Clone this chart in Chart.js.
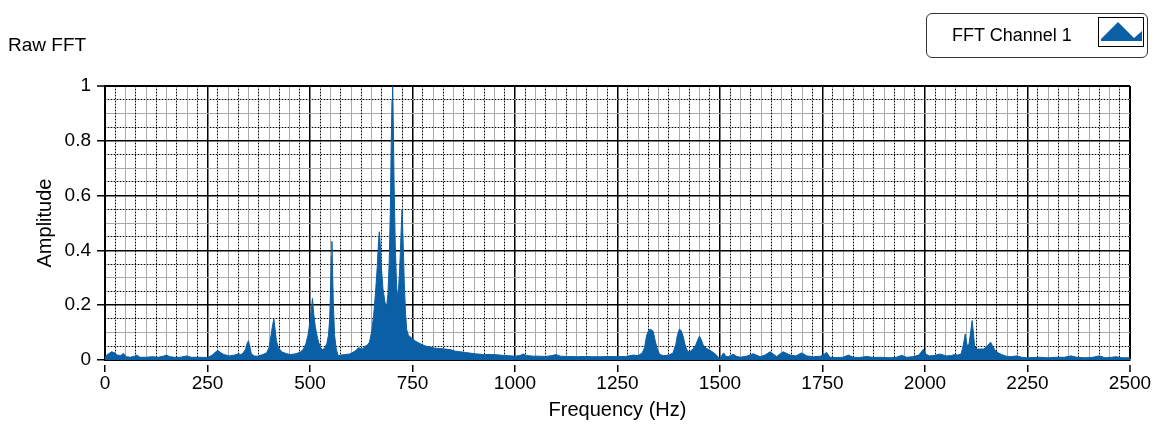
<!DOCTYPE html>
<html lang="en">

<head>
  <meta charset="UTF-8">
  <meta name="viewport" content="width=device-width, initial-scale=1.0">
  <script src="https://cdn.jsdelivr.net/npm/chart.js@4.4.1/dist/chart.umd.min.js"></script>
  <title>Raw FFT</title>
  <style>
    body {
      margin: 0;
      background: #fff;
      font-family: 'Liberation Sans', Arial, sans-serif;
    }

    #wrap {
      position: relative;
      width: 1174px;
      height: 429px;
    }

    .graphTitle {
      position: absolute;
      left: 8px;
      top: 33px;
      font-size: 19px;
      line-height: 24px;
      color: #000;
    }

    .legendBox {
      position: absolute;
      left: 926px;
      top: 13px;
      width: 222px;
      height: 45px;
      border: 1px solid #333;
      border-radius: 6px;
      box-sizing: border-box;
    }

    .legendBox .label {
      position: absolute;
      left: 25px;
      top: 9px;
      font-size: 18px;
      line-height: 24px;
      color: #000;
    }

    .legendBox .icon {
      position: absolute;
      left: 171px;
      top: 3px;
      width: 46px;
      height: 30px;
      border: 1px solid #000;
      box-sizing: border-box;
      background: #fff;
    }

    .legendBox .icon svg {
      display: block;
    }
  </style>
</head>

<body>
  <div id="wrap">
    <canvas id="fftChart"></canvas>
    <div class="graphTitle">Raw FFT</div>
    <div class="legendBox">
      <span class="label">FFT Channel 1</span>
      <span class="icon">
        <svg width="44" height="28" viewBox="0 0 44 28">
          <polygon points="2,21 19,4 35,20 43,13 43,23 2,23" fill="#0b5fa5" />
        </svg>
      </span>
    </div>
  </div>

<script>
  // frequenze (Hz)
  const freqHz = [
    0, 8, 16, 24, 30, 38, 45, 52, 62, 72, 78, 85, 100, 116, 130, 142, 150, 158, 170, 185,
    199, 210, 231, 250, 262, 270, 276, 283, 290, 304, 316, 324, 332, 337, 343, 347, 350, 353, 357, 364,
    372, 385, 394, 400, 405, 409, 412, 415, 418, 423, 431, 441, 451, 463, 476, 484, 490, 495, 499, 503,
    506, 509, 513, 517, 521, 526, 531, 536, 541, 545, 548, 550, 552, 553.5, 555, 557, 560, 564, 569, 575,
    585, 597, 605, 612, 618, 623, 628, 634, 640, 645, 650, 655, 660, 664, 667, 669, 671, 674, 678, 683,
    687, 690, 693, 696, 698, 700, 701.5, 703, 705, 708, 711, 713, 716, 719, 722, 724.5, 727, 730, 733, 736,
    740, 748, 758, 768, 780, 790, 801, 815, 830, 842, 855, 866, 882, 900, 923, 945, 963, 980, 1000, 1012,
    1020, 1028, 1045, 1060, 1075, 1090, 1100, 1110, 1130, 1150, 1170, 1190, 1210, 1230, 1250, 1270, 1289, 1300, 1310, 1316,
    1321, 1326, 1331, 1337, 1342, 1347, 1353, 1362, 1375, 1385, 1392, 1396, 1401, 1405, 1410, 1414, 1418, 1422, 1428, 1435,
    1441, 1446, 1450, 1454, 1459, 1467, 1476, 1483, 1490, 1496, 1500, 1505, 1509, 1514, 1520, 1532, 1540, 1549, 1565, 1581,
    1598, 1610, 1622, 1638, 1654, 1671, 1685, 1699, 1712, 1728, 1745, 1755, 1760, 1768, 1785, 1800, 1813, 1825, 1840, 1858,
    1875, 1890, 1915, 1930, 1943, 1955, 1970, 1985, 1996, 2002, 2010, 2022, 2036, 2052, 2064, 2072, 2080, 2088, 2093, 2098,
    2102, 2105, 2108, 2112, 2115, 2118, 2121, 2126, 2132, 2143, 2151, 2156, 2160, 2165, 2171, 2180, 2187, 2198, 2208, 2224,
    2236, 2248, 2265, 2280, 2300, 2320, 2340, 2356, 2370, 2390, 2410, 2425, 2440, 2455, 2466, 2480, 2500
  ];

  // ampiezze corrispondenti
  const amplitude = [
    0.012, 0.022, 0.03, 0.026, 0.018, 0.016, 0.024, 0.012, 0.01, 0.014, 0.018, 0.01, 0.01, 0.012, 0.01, 0.014, 0.018, 0.012, 0.01, 0.01,
    0.015, 0.01, 0.01, 0.009, 0.018, 0.03, 0.034, 0.026, 0.02, 0.015, 0.018, 0.022, 0.02, 0.026, 0.04, 0.062, 0.07, 0.05, 0.022, 0.015,
    0.014, 0.02, 0.026, 0.045, 0.09, 0.13, 0.149, 0.11, 0.07, 0.045, 0.03, 0.024, 0.02, 0.022, 0.028, 0.04, 0.06, 0.09, 0.13, 0.18,
    0.225, 0.17, 0.12, 0.09, 0.065, 0.045, 0.037, 0.045, 0.06, 0.09, 0.15, 0.25, 0.38, 0.433, 0.33, 0.2, 0.09, 0.04, 0.015, 0.018,
    0.02, 0.022, 0.028, 0.035, 0.045, 0.042, 0.04, 0.05, 0.055, 0.065, 0.1, 0.16, 0.25, 0.34, 0.43, 0.468, 0.43, 0.34, 0.26, 0.21,
    0.195, 0.24, 0.35, 0.55, 0.78, 0.95, 1.0, 0.88, 0.65, 0.42, 0.28, 0.23, 0.26, 0.34, 0.46, 0.55, 0.44, 0.28, 0.17, 0.11,
    0.09, 0.08, 0.068, 0.06, 0.052, 0.048, 0.044, 0.042, 0.04, 0.038, 0.032, 0.03, 0.027, 0.023, 0.02, 0.02, 0.018, 0.016, 0.014, 0.016,
    0.022, 0.016, 0.014, 0.014, 0.013, 0.016, 0.02, 0.014, 0.013, 0.012, 0.013, 0.012, 0.012, 0.013, 0.012, 0.013, 0.018, 0.016, 0.025, 0.045,
    0.09, 0.108, 0.112, 0.105, 0.07, 0.04, 0.02, 0.016, 0.018, 0.025, 0.055, 0.09, 0.112, 0.108, 0.088, 0.06, 0.042, 0.03, 0.032, 0.042,
    0.055, 0.075, 0.087, 0.075, 0.055, 0.042, 0.035, 0.028, 0.02, 0.01, 0.005, 0.018, 0.026, 0.014, 0.012, 0.021, 0.014, 0.01, 0.014, 0.023,
    0.012, 0.018, 0.03, 0.013, 0.03, 0.018, 0.015, 0.026, 0.015, 0.012, 0.014, 0.022, 0.028, 0.01, 0.009, 0.01, 0.018, 0.01, 0.009, 0.013,
    0.009, 0.01, 0.008, 0.01, 0.017, 0.01, 0.012, 0.018, 0.039, 0.022, 0.015, 0.016, 0.022, 0.015, 0.016, 0.02, 0.018, 0.022, 0.05, 0.095,
    0.06, 0.045, 0.065, 0.11, 0.144, 0.1, 0.05, 0.04, 0.04, 0.04, 0.05, 0.058, 0.065, 0.05, 0.035, 0.025, 0.02, 0.014, 0.012, 0.015,
    0.01, 0.008, 0.009, 0.01, 0.008, 0.01, 0.01, 0.015, 0.01, 0.008, 0.01, 0.015, 0.008, 0.01, 0.012, 0.008, 0.008
  ];

  const seriesName = 'FFT Channel 1';
  const xTitle = 'Frequency (Hz)';
  const yTitle = 'Amplitude';

  const fftBlue = '#0b5fa5';
  const minorGray = '#aaaaaa';
  const hidden = 'rgba(0,0,0,0)';

  Chart.defaults.font.family = "'Liberation Sans', Arial, sans-serif";
  Chart.defaults.color = '#000';

  /* griglia: principali ogni 250 Hz / 0.2, secondarie ogni 25 Hz / 0.05 */
  function isMajorX(v) { return Math.round(v) % 250 === 0; }
  function isMajorY(v) { return Math.round(v * 100) % 20 === 0; }
  function isDotX(v) { return !isMajorX(v) && Math.round(v / 25) % 2 === 1; }
  function isDotY(v) { return !isMajorY(v) && Math.round(v * 20) % 2 === 1; }

  const points = freqHz.map((f, i) => ({ x: f, y: amplitude[i] }));

  const ctx = document.getElementById('fftChart').getContext('2d');
  const fftChart = new Chart(ctx, {
    type: 'line',
    data: {
      datasets: [{
        label: seriesName,
        data: points,
        fill: 'origin',
        backgroundColor: fftBlue,
        borderColor: fftBlue,
        borderWidth: 1,
        pointRadius: 0,
        tension: 0
      }]
    },
    options: {
      responsive: true,
      maintainAspectRatio: false,
      animation: false,
      events: [],
      layout: {
        padding: { top: 86, right: 44, bottom: 0, left: 0 }
      },
      plugins: {
        legend: { display: false },
        tooltip: { enabled: false }
      },
      scales: {
        x: {
          type: 'linear',
          min: 0,
          max: 2500,
          ticks: {
            stepSize: 25,
            autoSkip: false,
            maxRotation: 0,
            padding: 0,
            font: { size: 19 },
            callback: v => isMajorX(v) ? String(Math.round(v)) : ''
          },
          grid: {
            color: c => c.tick && isMajorX(c.tick.value) ? '#000' : minorGray,
            lineWidth: c => c.tick && c.tick.value >= 2500 ? 2 : (c.tick && isMajorX(c.tick.value) ? 1.5 : 1),
            tickLength: 12,
            tickColor: c => c.tick && isMajorX(c.tick.value) ? '#000' : hidden,
            tickWidth: 1.5,
            tickBorderDash: [0, 4, 8, 40]
          },
          border: { display: true, color: '#000', width: 2 },
          title: {
            display: true,
            text: xTitle,
            font: { size: 20 },
            padding: { top: 0, bottom: 7 }
          },
          afterFit: s => { s.height = 69; }
        },
        y: {
          min: 0,
          max: 1,
          ticks: {
            stepSize: 0.05,
            autoSkip: false,
            padding: 2,
            font: { size: 19 },
            callback: v => isMajorY(v) ? String(+v.toFixed(1)) : ''
          },
          grid: {
            color: c => c.tick && isMajorY(c.tick.value) ? '#000' : minorGray,
            lineWidth: c => c.tick && c.tick.value >= 1 ? 2 : (c.tick && isMajorY(c.tick.value) ? 1.5 : 1),
            tickLength: 12,
            tickColor: c => c.tick && isMajorY(c.tick.value) ? '#000' : hidden,
            tickWidth: 1.5,
            tickBorderDash: [0, 4, 8, 40]
          },
          border: { display: true, color: '#000', width: 2 },
          title: {
            display: true,
            text: yTitle,
            font: { size: 20 },
            padding: { top: 33, bottom: 0 }
          },
          afterFit: s => { s.width = 105; }
        },
        // linee punteggiate sovrapposte alla griglia secondaria
        xDot: {
          type: 'linear',
          position: 'bottom',
          min: 0,
          max: 2500,
          ticks: { display: false, stepSize: 25, autoSkip: false },
          grid: {
            drawTicks: false,
            color: c => c.tick && isDotX(c.tick.value) ? '#000' : hidden,
            lineWidth: 1
          },
          border: { display: false, dash: [1, 2] },
          afterFit: s => { s.height = 0; }
        },
        yDot: {
          type: 'linear',
          position: 'left',
          min: 0,
          max: 1,
          ticks: { display: false, stepSize: 0.05, autoSkip: false },
          grid: {
            drawTicks: false,
            color: c => c.tick && isDotY(c.tick.value) ? '#000' : hidden,
            lineWidth: 1
          },
          border: { display: false, dash: [1, 2] },
          afterFit: s => { s.width = 0; }
        }
      }
    }
  });
</script>

</body>

</html>
